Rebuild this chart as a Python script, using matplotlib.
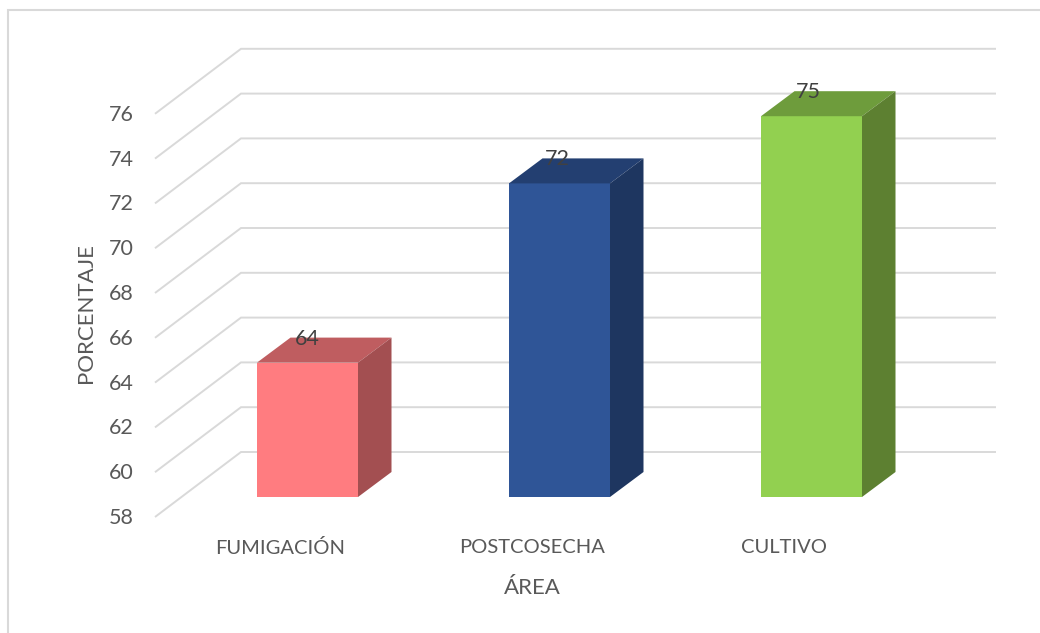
import matplotlib
matplotlib.use("Agg")
import matplotlib.pyplot as plt
from matplotlib.patches import Polygon

categories = ["FUMIGACIÓN", "POSTCOSECHA", "CULTIVO"]
values = [64, 72, 75]
yticks = list(range(58, 78, 2))
front_colors = ["#FF7C80", "#2F5597", "#92D050"]
top_colors = ["#BF5D60", "#233F71", "#6E9C3C"]
side_colors = ["#A34F51", "#1E3660", "#5D8031"]
xlabel = "ÁREA"
ylabel = "PORCENTAJE"
cat_offsets_px = [-27, -27, -28]
val_offsets_px = [-0.5, -2, -3]

W, H = 1040, 633
PX_X = 252.0          # pixels per category
PX_Y = 22.4           # pixels per unit
X0_PX, Y0_PX = 307.5, 497.0

plt.rcParams["font.family"] = ["Lato", "DejaVu Sans"]
fig = plt.figure(figsize=(W / 100, H / 100), dpi=100, facecolor="white")
ax = fig.add_axes([0, 0, 1, 1])
ax.set_xlim(-X0_PX / PX_X, (W - X0_PX) / PX_X)
ax.set_ylim(58 - (H - Y0_PX) / PX_Y, 58 + Y0_PX / PX_Y)
ax.axis("off")

def dx(px):
    return px / PX_X
def dy(px):
    return px / PX_Y

GRID = "#D9D9D9"
TEXT = "#595959"

# outer chart frame (left and top edges visible)
ax.plot([0.0077, 0.0077, 1], [0, 0.9835, 0.9835], transform=ax.transAxes,
        color="#D9D9D9", lw=1.5, zorder=1, solid_joinstyle="miter")

# walls: gridlines on back wall plus receding side-wall lines
bw_x0 = dx(241 - X0_PX)
bw_x1 = dx(996 - X0_PX)
side_x = dx(155 - X0_PX)
back_dy = dy(45.0)
side_dy = dy(-20.0)
for v in yticks:
    yb = v + back_dy
    ys = v + side_dy
    ax.plot([side_x, bw_x0, bw_x1], [ys, yb, yb], color=GRID, lw=1.4, zorder=2,
            solid_joinstyle="miter", solid_capstyle="butt")
    ax.text(dx(134 - X0_PX), ys - dy(1), str(v), ha="right", va="center",
            fontsize=15.5, color=TEXT, zorder=5)

# bars
half = dx(50.5)
ox, oy = dx(33.5), dy(25)
for i, (v, fc, tc, sc) in enumerate(zip(values, front_colors, top_colors, side_colors)):
    l, r = i - half, i + half
    ax.add_patch(Polygon([(l, 58), (r, 58), (r, v), (l, v)], closed=True, fc=fc, ec="none", zorder=3))
    ax.add_patch(Polygon([(l, v), (r, v), (r + ox, v + oy), (l + ox, v + oy)], closed=True, fc=tc, ec="none", zorder=3))
    ax.add_patch(Polygon([(r, 58), (r + ox, 58 + oy), (r + ox, v + oy), (r, v)], closed=True, fc=sc, ec="none", zorder=3))
    ax.text(i + dx(val_offsets_px[i]), v + dy(24), str(v), ha="center", va="center",
            fontsize=15.5, color="#404040", zorder=6)
    ax.text(i + dx(cat_offsets_px[i]), 58 - dy(50.5), categories[i],
            ha="center", va="center", fontsize=14.5, color=TEXT, zorder=5)

ax.text(dx(532 - X0_PX), 58 - dy(91.5), xlabel, ha="center", va="center",
        fontsize=16, color=TEXT)
ax.text(dx(86 - X0_PX), 58 + dy(184), ylabel, ha="center", va="center",
        rotation=90, fontsize=16, color=TEXT)

fig.savefig("out.png", dpi=100)
